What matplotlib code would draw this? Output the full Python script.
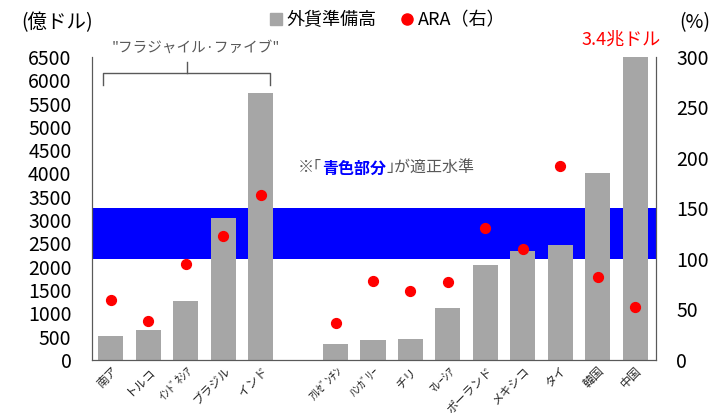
import matplotlib
matplotlib.use("Agg")
import matplotlib.pyplot as plt
from matplotlib.lines import Line2D
import numpy as np

plt.rcParams['font.family'] = ['Noto Sans CJK JP', 'DejaVu Sans']

# 外貨準備高 (億ドル) と ARA (%)
countries = ['南ア', 'トルコ', 'ｲﾝﾄﾞﾈｼｱ', 'ブラジル', 'インド',
             'ｱﾙｾﾞﾝﾁﾝ', 'ﾊﾝｶﾞﾘｰ', 'チリ', 'ﾏﾚｰｼｱ', 'ポーランド',
             'メキシコ', 'タイ', '韓国', '中国']
reserves = [510, 640, 1270, 3040, 5730,
            340, 430, 450, 1120, 2030,
            2340, 2460, 4000, 34000]
ara = [59, 39, 95, 123, 163,
       37, 78, 68, 77, 131,
       110, 192, 82, 52]
band = (100, 150)  # 適正水準 (%)

left_max = 6500
right_max = 300

# 5か国のあとに1枠空ける
xpos = np.array(list(range(5)) + list(range(6, 15)))

fig = plt.figure(figsize=(7.15, 4.19), dpi=100)
ax = fig.add_axes([0.129, 0.141, 0.788, 0.723])
ax2 = ax.twinx()

scale = left_max / right_max
ax.axhspan(band[0] * scale, band[1] * scale, color='#0000FF', zorder=0, lw=0)
ax.bar(xpos, reserves, width=0.67, color='#A6A6A6', zorder=2)
ax2.scatter(xpos, ara, s=50, color='#FF0000', zorder=3)

ax.set_xlim(-0.5, 14.55)
ax.set_ylim(0, left_max)
ax2.set_ylim(0, right_max)
ax.set_yticks(np.arange(0, left_max + 1, 500))
ax2.set_yticks(np.arange(0, right_max + 1, 50))
ax.set_xticks(xpos)
ax.set_xticklabels(countries, rotation=45, ha='right', rotation_mode='anchor',
                   fontsize=8.6, color='#262626')

for a in (ax, ax2):
    a.tick_params(axis='y', length=0, pad=15, labelsize=14, colors='#000000')
    a.spines['top'].set_visible(False)
    for s in ('left', 'right', 'bottom'):
        a.spines[s].set_color('#595959')
ax.tick_params(axis='x', length=0, pad=3)

fig.text(0.03, 0.945, '(億ドル)', fontsize=14, va='center')
fig.text(0.95, 0.945, '(%)', fontsize=14, va='center')

handles = [Line2D([], [], marker='s', ls='', color='#A6A6A6', markersize=9),
           Line2D([], [], marker='o', ls='', color='#FF0000', markersize=8)]
fig.legend(handles, ['外貨準備高', 'ARA（右）'], loc='center',
           bbox_to_anchor=(0.54, 0.952), ncol=2, frameon=False, fontsize=13,
           handletextpad=0.1, columnspacing=1.2, handlelength=1.0)

ax.annotate('3.4兆ドル', xy=(xpos[-1], left_max), xytext=(-10, 6),
            textcoords='offset points', ha='center', va='bottom',
            color='#FF0000', fontsize=13, annotation_clip=False)

# フラジャイル・ファイブの括弧
bl, br = xpos[0] - 0.21, xpos[4] + 0.25
bm = (bl + br) / 2
yb, yd, yu = 6150, 5900, 6390
ax.plot([bl, bl, br, br], [yd, yb, yb, yd], color='#595959', lw=1, clip_on=False, zorder=4)
ax.plot([bm, bm], [yb, yu], color='#595959', lw=1, clip_on=False, zorder=4)
ax.text(bm + 0.25, 6700, '"フラジャイル·ファイブ"', ha='center', va='center',
        fontsize=10.5, color='#595959')

t1 = ax.text(5.0, 4120, '※｢', fontsize=11.5, color='#595959', va='center')
t2 = ax.annotate('青色部分', xy=(1, 0), xycoords=t1, va='bottom',
                 fontsize=11.5, color='#0000FF', fontweight='bold')
ax.annotate('｣が適正水準', xy=(1, 0), xycoords=t2, va='bottom',
            fontsize=11.5, color='#595959')

fig.savefig('out.png', dpi=100)
